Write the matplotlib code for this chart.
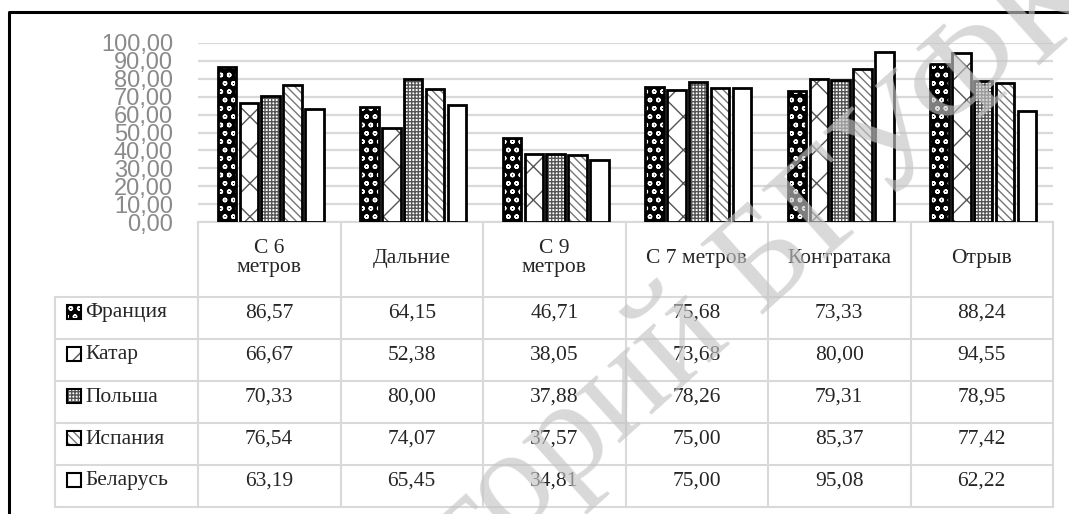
import numpy as np
import matplotlib.pyplot as plt
from matplotlib.patches import Rectangle

plt.rcParams['hatch.linewidth'] = 1.0

categories = ["С 6\nметров", "Дальние", "С 9\nметров", "С 7 метров", "Контратака", "Отрыв"]
countries = ["Франция", "Катар", "Польша", "Испания", "Беларусь"]
france = [86.57, 64.15, 46.71, 75.68, 73.33, 88.24]
qatar = [66.67, 52.38, 38.05, 73.68, 80.00, 94.55]
poland = [70.33, 80.00, 37.88, 78.26, 79.31, 78.95]
spain = [76.54, 74.07, 37.57, 75.00, 85.37, 77.42]
belarus = [63.19, 65.45, 34.81, 75.00, 95.08, 62.22]
series = [france, qatar, poland, spain, belarus]
yticks = np.arange(0, 101, 10)

# face colour, hatch colour, hatch pattern per country
styles = [("black", "white", "oo"),
          ("white", "#555555", "x"),
          ("white", "#555555", "+++++"),
          ("white", "#777777", "\\\\\\\\"),
          ("white", "white", "")]

W, H = 1069, 514
fig = plt.figure(figsize=(W / 100, H / 100), dpi=100)

# background layer in pixel units: frame + table
bg = fig.add_axes([0, 0, 1, 1])
bg.set_xlim(0, W)
bg.set_ylim(H, 0)
bg.axis("off")
bg.plot([9, 9, W], [H, 12, 12], color="black", lw=2.2)

left, right, top, base = 198, 1053, 43, 222
colw = (right - left) / len(categories)
xs = [left + colw * k for k in range(len(categories) + 1)]
head_bot = 297
rowh = 42
rows_y = [head_bot + rowh * j for j in range(len(countries) + 1)]
lab_left = 55
gcol = "#d9d9d9"
serif = "Liberation Serif"
tcol = "#262626"
fs = 15.5

# table grid
bg.plot([left, right], [base, base], color=gcol, lw=1.5)
for x in xs:
    bg.plot([x, x], [base, rows_y[-1]], color=gcol, lw=1.5)
bg.plot([lab_left, lab_left], [head_bot, rows_y[-1]], color=gcol, lw=1.5)
for y in rows_y:
    bg.plot([lab_left, right], [y, y], color=gcol, lw=1.5)

for k, cat in enumerate(categories):
    bg.text((xs[k] + xs[k + 1]) / 2, 258, cat, ha="center", va="center",
            fontsize=fs, family=serif, color=tcol, linespacing=1.0)

for j, (name, vals) in enumerate(zip(countries, series)):
    yc = rows_y[j] + 16
    face, hcol, hatch = styles[j]
    bg.add_patch(Rectangle((67, yc - 8), 14, 14, facecolor=face, edgecolor=hcol,
                           hatch=hatch, lw=0))
    bg.add_patch(Rectangle((67, yc - 8), 14, 14, fill=False, edgecolor="black", lw=1.5))
    bg.text(85, yc, name, ha="left", va="center", fontsize=fs, family=serif,
            color=tcol)
    for k, v in enumerate(vals):
        bg.text((xs[k] + xs[k + 1]) / 2, yc, f"{v:.2f}".replace(".", ","),
                ha="center", va="center", fontsize=fs, family=serif, color=tcol)

# bar chart
ax = fig.add_axes([left / W, (H - base) / H, (right - left) / W, (base - top) / H])
ax.patch.set_alpha(0)
ax.set_xlim(-0.5, len(categories) - 0.5)
ax.set_ylim(0, 100)
ax.set_yticks(yticks)
ax.set_yticklabels([f"{v:.2f}".replace(".", ",") for v in yticks],
                   fontsize=17, family="Liberation Sans", color="#8a8a8a")
ax.tick_params(axis="y", length=0, pad=18)
ax.set_xticks([])
for s in ax.spines.values():
    s.set_visible(False)
ax.yaxis.grid(True, color=gcol, lw=1.6)
ax.set_axisbelow(True)

idx = np.arange(len(categories))
width = 0.13
for i, vals in enumerate(series):
    face, hcol, hatch = styles[i]
    pos = idx + (i - 2) * 0.153 + 0.01
    ax.bar(pos, vals, width, color=face, edgecolor=hcol, hatch=hatch, lw=0, zorder=2)
    ax.bar(pos, vals, width, fill=False, edgecolor="black", lw=2, zorder=3)

# watermark
fig.text(605 / W, 1 - 410 / H, "Репозиторий БГУФК", ha="center", va="center",
         rotation=42, rotation_mode="anchor", fontsize=104, family=serif,
         color="#c4c4c4", alpha=0.65, zorder=10)

fig.savefig("out.png", dpi=100)
